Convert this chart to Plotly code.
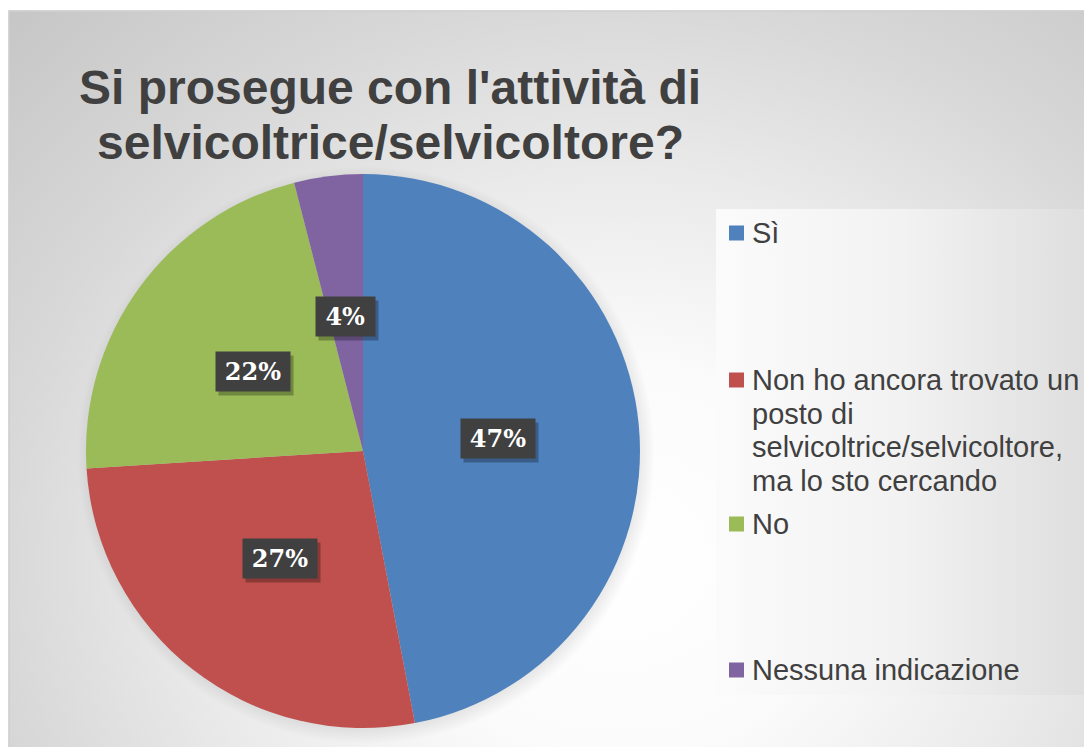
import math
import plotly.graph_objects as go

# ---- data ----
categories = ["Sì",
              "Non ho ancora trovato un<br>posto di<br>selvicoltrice/selvicoltore,<br>ma lo sto cercando",
              "No",
              "Nessuna indicazione"]
values = [47, 27, 22, 4]
colors = ["#4F81BD", "#C0504D", "#9BBB59", "#8064A2"]
title_lines = ["Si prosegue con l'attività di", "selvicoltrice/selvicoltore?"]

# ---- layout constants (page pixels) ----
W, H = 1092, 747
OFF = 8  # page offset of the figure
CX, CY, R = 363, 451, 277
TXT = "#404040"

fig = go.Figure()

# background radial gradient
gcx, gcy, ga, gb = 620, 560, 864, 776
fig.add_trace(go.Scatter(
    x=[gcx - ga, gcx + ga, gcx + ga, gcx - ga, gcx - ga],
    y=[gcy - gb, gcy - gb, gcy + gb, gcy + gb, gcy - gb],
    mode="lines", line=dict(width=0), fill="toself",
    fillgradient=dict(type="radial",
                      colorscale=[[0, "#ffffff"], [0.25, "#fbfbfb"], [0.5, "#eaeaea"],
                                  [0.72, "#d8d8d8"], [1, "#c6c6c6"]]),
    hoverinfo="skip", showlegend=False))

# soft pie shadow
ang = [i * 2 * math.pi / 180 for i in range(181)]
sr = R + 12
fig.add_trace(go.Scatter(
    x=[CX + 3 + sr * math.cos(a) for a in ang], y=[CY + 4 + sr * math.sin(a) for a in ang],
    mode="lines", line=dict(width=0), fill="toself",
    fillgradient=dict(type="radial",
                      colorscale=[[0, "rgba(0,0,0,0.18)"], [0.92, "rgba(0,0,0,0.12)"], [1, "rgba(0,0,0,0)"]]),
    hoverinfo="skip", showlegend=False))

# legend box
lx0, ly0, lx1, ly1 = 716, 209, 1089, 695
fig.add_trace(go.Scatter(
    x=[lx0, lx1, lx1, lx0, lx0], y=[ly0, ly0, ly1, ly1, ly0],
    mode="lines", line=dict(width=0), fill="toself",
    fillgradient=dict(type="horizontal", colorscale=[[0, "#fbfbfb"], [0.5, "#f2f2f2"], [1, "#dedede"]]),
    hoverinfo="skip", showlegend=False))

# pie
fcx, fcy = CX - OFF, CY - OFF
fig.add_trace(go.Pie(
    labels=categories, values=values, sort=False, direction="clockwise", rotation=0,
    marker=dict(colors=colors, line=dict(width=0)),
    textinfo="none", hoverinfo="label+percent", showlegend=False,
    domain=dict(x=[(fcx - R) / W, (fcx + R) / W], y=[(H - fcy - R) / H, (H - fcy + R) / H])))

annotations = []
shapes = []

# data labels
total = sum(values)
cum = 0
for v in values:
    mid = (cum + v / 2) / total * 2 * math.pi
    cum += v
    px = CX + 0.49 * R * math.sin(mid)
    py = CY - 0.49 * R * math.cos(mid)
    pct = round(v / total * 100)
    label = f"{pct}%"
    bw = 15.5 * len(str(pct)) + 21 + 10
    annotations.append(dict(x=px, y=py, xref="x", yref="y", text=" ", showarrow=False,
                            xshift=3, yshift=-4, width=bw, height=27,
                            font=dict(family="DejaVu Serif", size=24, color="rgba(0,0,0,0)"),
                            bgcolor="rgba(0,0,0,0.28)", borderpad=6))
    annotations.append(dict(x=px, y=py, xref="x", yref="y", text=label, showarrow=False,
                            width=bw, height=27,
                            font=dict(family="DejaVu Serif", size=24, color="white", weight="bold"),
                            bgcolor="#404040", borderpad=6))

# title
for ln, ty in zip(title_lines, [87, 142]):
    annotations.append(dict(x=390, y=ty, xref="x", yref="y", text=ln, showarrow=False,
                            xanchor="center", yanchor="middle",
                            font=dict(family="Liberation Sans", size=48, color=TXT, weight="bold")))

# legend entries
leg_y = [233, 380, 524, 670]
line_gap = 33.5
for cat, col, y0 in zip(categories, colors, leg_y):
    shapes.append(dict(type="rect", xref="x", yref="y", x0=729, x1=744, y0=y0 - 7.5, y1=y0 + 7.5,
                       fillcolor=col, line=dict(width=0)))
    for k, ln in enumerate(cat.split("<br>")):
        annotations.append(dict(x=750, y=y0 + k * line_gap, xref="x", yref="y", text=ln,
                                showarrow=False, xanchor="left", yanchor="middle",
                                font=dict(family="Liberation Sans", size=29, color=TXT)))

# white page margins and chart border
shapes.append(dict(type="rect", xref="x", yref="y", x0=0, x1=1200, y0=0, y1=10.5,
                   fillcolor="white", line=dict(width=0), layer="above"))
shapes.append(dict(type="rect", xref="x", yref="y", x0=0, x1=8.5, y0=0, y1=800,
                   fillcolor="white", line=dict(width=0), layer="above"))
shapes.append(dict(type="rect", xref="x", yref="y", x0=9, x1=1110, y0=11, y1=770,
                   line=dict(color="#cfcfcf", width=1.5), fillcolor="rgba(0,0,0,0)", layer="above"))

fig.update_layout(
    width=W, height=H, margin=dict(l=0, r=0, t=0, b=0),
    paper_bgcolor="white", plot_bgcolor="white",
    xaxis=dict(range=[OFF, OFF + W], visible=False, domain=[0, 1], fixedrange=True),
    yaxis=dict(range=[OFF + H, OFF], visible=False, domain=[0, 1], fixedrange=True),
    annotations=annotations, shapes=shapes, showlegend=False)

fig.write_html("out.html")
